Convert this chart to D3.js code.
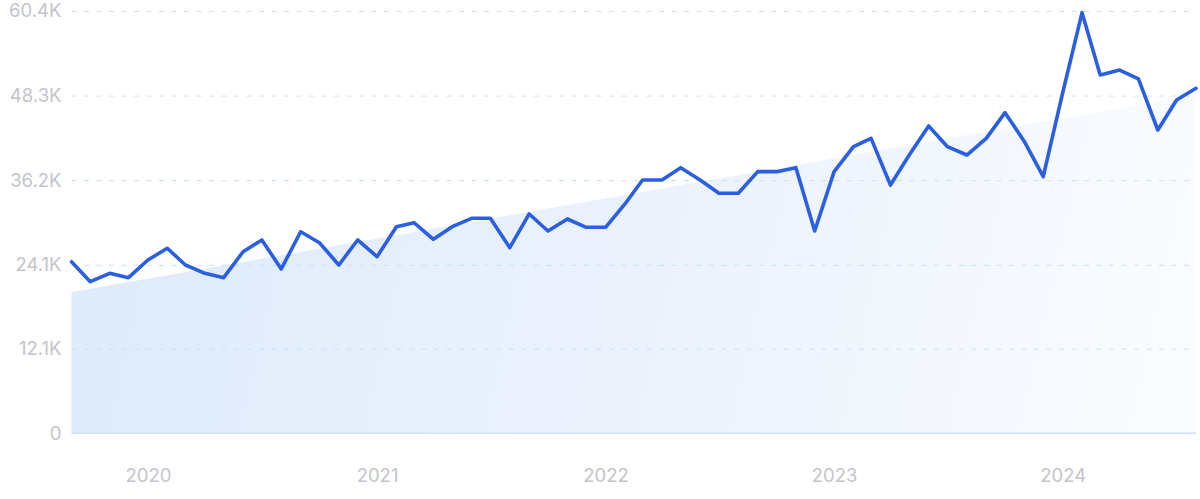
<!DOCTYPE html>
<html>
<head>
<meta charset="utf-8">
<script src="https://cdn.jsdelivr.net/npm/d3@7"></script>
<style>
  html, body { margin: 0; padding: 0; background: #ffffff; }
  svg { display: block; }
  text { font-family: Inter, "Noto Sans", sans-serif; }
</style>
</head>
<body>
<svg id="chart" width="1200" height="499"></svg>
<script>
// ---- Data ----
const startMonth = "2019-09";
const values = [
  24540, 21680, 22880, 22260, 24790, 26460, 24070, 22880, 22260, 25970,
  27650, 23500, 28830, 27260, 24070, 27650, 25260, 29550, 30120, 27750,
  29550, 30750, 30750, 26550, 31370, 28940, 30650, 29460, 29460, 32800,
  36230, 36230, 37990, 36230, 34330, 34330, 37420, 37420, 37990, 28940,
  37420, 40990, 42190, 35510, 39800, 43950, 40990, 39800, 42190, 45860,
  41710, 36700, 48670, 60160, 51250, 51960, 50680, 43380, 47670, 49340
];
const trendValues = [20200, 48400];           // trend band: first month, last month
const yTickValues = [0, 12100, 24100, 36200, 48300, 60400];
const yTickLabels = ["0", "12.1K", "24.1K", "36.2K", "48.3K", "60.4K"];
const xTickYears = [2020, 2021, 2022, 2023, 2024];

// ---- Build dates ----
const [sy, sm] = startMonth.split("-").map(Number);
const dates = values.map((v, i) => new Date(sy, sm - 1 + i, 1));
const series = values.map((v, i) => ({ date: dates[i], value: v }));
const trend = [
  { date: dates[0], value: trendValues[0] },
  { date: dates[dates.length - 1], value: trendValues[1] }
];

// ---- Scales ----
const svg = d3.select("#chart");
const x = d3.scaleTime().domain([dates[0], dates[dates.length - 1]]).range([71.5, 1196]);
const y = d3.scaleLinear().domain([0, 60400]).range([433.3, 11]);

// ---- Gradient ----
const defs = svg.append("defs");
const grad = defs.append("linearGradient")
  .attr("id", "areaGrad")
  .attr("gradientUnits", "userSpaceOnUse")
  .attr("x1", 71).attr("y1", 250).attr("x2", 1196).attr("y2", 500);
grad.append("stop").attr("offset", "0%").attr("stop-color", "#deebfb");
grad.append("stop").attr("offset", "55%").attr("stop-color", "#edf3fd");
grad.append("stop").attr("offset", "100%").attr("stop-color", "#fbfdff");

// ---- Trend area ----
const area = d3.area()
  .x(d => x(d.date))
  .y0(y(0))
  .y1(d => y(d.value));
svg.append("path")
  .datum(trend)
  .attr("d", area)
  .attr("fill", "url(#areaGrad)");

// ---- Grid + y axis ----
const yAxis = d3.axisLeft(y)
  .tickValues(yTickValues)
  .tickFormat((d, i) => yTickLabels[i])
  .tickSize(-(1196 - 71.5))
  .tickPadding(10);
const gy = svg.append("g")
  .attr("transform", "translate(71.5,0)")
  .call(yAxis);
gy.select(".domain").remove();
gy.selectAll(".tick line")
  .attr("stroke", (d, i) => i >= 4 ? "#d2def7" : "#c3e0f8")
  .attr("stroke-width", 1)
  .attr("stroke-dasharray", "5,7.5")
  .attr("opacity", d => d === 0 ? 0 : 1);
gy.selectAll(".tick text")
  .attr("fill", "#c4c4cc")
  .attr("font-size", "18.5px")
  .attr("dx", "0");

// ---- Baseline ----
svg.append("line")
  .attr("x1", 71.5).attr("x2", 1196)
  .attr("y1", y(0)).attr("y2", y(0))
  .attr("stroke", "#cfe2fb").attr("stroke-width", 1.5);

// ---- x axis ----
const xAxis = d3.axisBottom(x)
  .tickValues(xTickYears.map(yr => new Date(yr, 0, 1)))
  .tickFormat(d3.timeFormat("%Y"))
  .tickSize(0)
  .tickPadding(0);
const gx = svg.append("g")
  .attr("transform", `translate(0,${y(0)})`)
  .call(xAxis);
gx.select(".domain").remove();
gx.selectAll(".tick text")
  .attr("fill", "#c4c4cc")
  .attr("font-size", "18.5px")
  .attr("dy", "0")
  .attr("y", 49);

// ---- Line ----
const line = d3.line()
  .x(d => x(d.date))
  .y(d => y(d.value));
svg.append("path")
  .datum(series)
  .attr("d", line)
  .attr("fill", "none")
  .attr("stroke", "#2b5fe2")
  .attr("stroke-width", 3.6)
  .attr("stroke-linejoin", "round")
  .attr("stroke-linecap", "round");
</script>
</body>
</html>
